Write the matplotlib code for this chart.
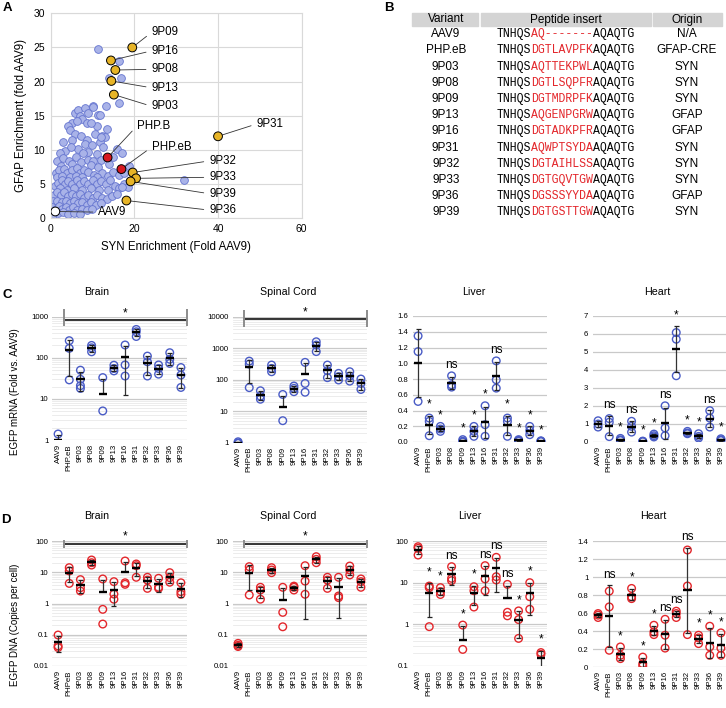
import numpy as np
import matplotlib
matplotlib.use('Agg')
import matplotlib.pyplot as plt
from matplotlib.ticker import LogLocator, NullFormatter

plt.rcParams['font.family'] = ['Liberation Sans', 'DejaVu Sans']

W, H = 726, 708

# ---------------- data: panel A ----------------
syn_bg = [5.8, 6.6, 8.2, 10.2, 9.0, 11.4, 13.2, 7.0,
          7.4, 5.0, 8.6, 6.2, 11.0, 13.4, 4.2, 9.6,
          4.6, 5.8, 10.6, 12.2, 3.0, 5.0, 7.2, 8.6, 13.0, 11.8,
          8.2, 9.8, 6.6, 3.4, 2.2, 9.0, 12.5, 15.8, 17.1, 4.8, 11.0, 7.8,
          1.6, 3.0, 4.4, 6.0, 7.2, 8.8, 10.2, 12.0, 14.0, 2.4, 5.2, 9.6, 11.4,
          1.2, 2.0, 3.2, 4.0, 5.0, 6.2, 7.0, 8.0, 9.0, 10.4, 12.2, 13.6, 15.0, 16.4, 17.5,
          1.6, 2.8, 4.6, 6.0, 7.6, 11.0, 18.6,
          1.0, 1.8, 2.6, 3.4, 4.2, 5.2, 6.2, 7.0, 8.0, 9.0, 10.0, 11.0, 12.0, 13.2, 14.2,
          15.4, 16.4, 17.6, 2.2, 3.8, 5.6, 7.6, 9.6, 11.6, 13.6, 18.5,
          0.8, 1.4, 2.4, 3.2, 4.2, 5.0, 6.0, 7.0, 8.0, 9.0, 10.0, 11.0, 12.2, 13.4, 14.6, 15.8,
          0.6, 1.6, 2.6, 3.6, 4.6, 5.6, 6.6, 7.6, 8.6, 9.6, 10.8, 12.0,
          0.4, 1.2, 2.0, 2.8, 3.6, 4.4, 5.4, 6.4, 7.4, 8.6, 9.8, 0.6, 1.8, 3.0, 4.2, 0.3, 5.6, 7.0,
          11.4, 16.4, 13.9, 16.8, 16.3, 31.9, 10.2, 11.8, 12.0, 17.0, 15.0]
gfap_bg = [15.4, 15.8, 16.1, 16.4, 15.4, 15.1, 16.4, 15.0,
           14.6, 13.9, 13.9, 14.3, 13.5, 13.1, 13.5, 14.0,
           12.9, 12.4, 12.4, 12.0, 11.2, 11.5, 12.0, 11.5, 11.9, 11.2,
           10.9, 10.7, 10.2, 9.9, 9.5, 9.7, 10.5, 10.2, 9.6, 10.5, 9.4, 9.6,
           8.4, 8.8, 8.4, 9.0, 8.2, 8.6, 8.4, 8.6, 8.0, 7.6, 7.9, 7.8, 7.5,
           6.6, 7.0, 7.2, 6.6, 7.0, 7.4, 6.6, 7.0, 6.8, 6.4, 6.6, 6.2, 6.8, 6.3, 6.6,
           6.0, 6.2, 6.0, 6.2, 6.0, 6.0, 7.6,
           4.8, 5.2, 5.6, 5.0, 5.4, 5.0, 5.6, 5.0, 5.4, 5.0, 5.6, 5.0, 5.4, 5.0, 5.6,
           4.8, 4.4, 5.0, 4.4, 4.2, 4.4, 4.2, 4.4, 4.2, 4.2, 4.6,
           3.4, 3.8, 3.4, 3.8, 3.2, 3.6, 3.2, 3.6, 3.0, 3.4, 3.0, 3.4, 3.0, 2.8, 3.2, 3.6,
           2.6, 2.6, 2.4, 2.6, 2.2, 2.6, 2.2, 2.4, 2.0, 2.4, 2.0, 2.2,
           1.6, 1.4, 1.8, 1.4, 1.6, 1.2, 1.6, 1.2, 1.4, 1.2, 1.4, 0.6, 0.8, 0.9, 0.6, 0.2, 0.8, 0.6,
           24.8, 23.0, 20.6, 20.6, 16.9, 5.56, 16.3, 15.1, 11.9, 4.6, 9.0]

hl_names = ['9P09', '9P16', '9P08', '9P13', '9P03', '9P31', 'PHP.B', 'PHP.eB',
            '9P32', '9P33', '9P39', '9P36', 'AAV9']
hl_syn = [19.5, 14.4, 15.45, 14.5, 15.1, 40.0, 13.6, 16.9, 19.6, 20.4, 19.1, 18.1, 1.1]
hl_gfap = [25.0, 23.1, 21.7, 20.1, 18.1, 12.0, 8.9, 7.2, 6.7, 5.85, 5.4, 2.6, 1.0]
hl_kind = ['new'] * 6 + ['ref', 'ref'] + ['new'] * 4 + ['aav9']

# ---------------- data: panel B ----------------
variants = ['AAV9', 'PHP.eB', '9P03', '9P08', '9P09', '9P13', '9P16', '9P31',
            '9P32', '9P33', '9P36', '9P39']
inserts = ['AQ-------', 'DGTLAVPFK', 'AQTTEKPWL', 'DGTLSQPFR', 'DGTMDRPFK', 'AQGENPGRW',
           'DGTADKPFR', 'AQWPTSYDA', 'DGTAIHLSS', 'DGTGQVTGW', 'DGSSSYYDA', 'DGTGSTTGW']
origins = ['N/A', 'GFAP-CRE', 'SYN', 'SYN', 'SYN', 'GFAP', 'GFAP', 'SYN', 'SYN', 'SYN',
           'GFAP', 'SYN']

# ---------------- data: panels C, D ----------------
groups = ['AAV9', 'PHPeB', '9P03', '9P08', '9P09', '9P13', '9P16', '9P31',
          '9P32', '9P33', '9P36', '9P39']
groups_brain_c = ['AAV9', 'PHP.eB'] + groups[2:]

mrna_brain = [[1.4, 0.8, 0.8], [261, 170, 29], [50, 30, 21, 18], [200, 175, 140],
              [33, 5.1, 0.6], [66, 55, 48], [205, 67, 36], [490, 430, 330],
              [110, 80, 36], [67, 55, 40], [133, 92, 73], [58, 38, 19]]
mrna_spinal = [[1.07, 0.98, 0.95], [389, 312, 56], [44.6, 30, 24], [292, 228, 179],
               [34, 5.0, 0.6], [63, 53, 41.6], [355, 76, 40], [1600, 1260, 780],
               [292, 193, 116], [159, 125, 98], [179, 130, 90], [105, 76, 49]]
mrna_liver = [[1.347, 1.148, 0.515], [0.304, 0.262, 0.08], [0.198, 0.165, 0.135],
              [0.84, 0.726, 0.697], [0.03, 0.01, 0.0], [0.198, 0.135, 0.072],
              [0.46, 0.22, 0.072], [1.03, 0.79, 0.684], [0.304, 0.262, 0.072],
              [0.03, 0.02, 0.01], [0.198, 0.144, 0.093], [0.015, 0.01, 0.005]]
mrna_heart = [[1.18, 1.0, 0.83], [1.3, 1.1, 0.3], [0.2, 0.12, 0.08], [1.15, 0.87, 0.55],
              [0.05, 0.03, 0.02], [0.44, 0.35, 0.28], [2.01, 0.78, 0.35], [6.08, 5.71, 3.68],
              [0.59, 0.5, 0.46], [0.46, 0.31, 0.22], [1.74, 1.33, 0.83], [0.18, 0.12, 0.08]]
dna_brain = [[0.098, 0.044, 0.039], [14, 11, 4.4], [5.8, 3.2, 2.5], [24.7, 20.2, 17.0],
             [6.1, 0.65, 0.22], [5.0, 2.0, 1.37], [22.9, 4.6, 4.1], [18.4, 16.2, 6.9],
             [6.9, 5.6, 3.05], [6.4, 3.3, 3.05], [9.7, 6.7, 4.8], [4.6, 2.4, 1.97]]
dna_spinal = [[0.053, 0.046, 0.042], [15.1, 11.8, 1.87], [3.3, 2.7, 1.37], [14.0, 11.8, 9.7],
              [3.3, 0.52, 0.18], [3.6, 3.3, 2.7], [16.2, 5.2, 1.97], [31.5, 25.9, 20.2],
              [6.9, 5.6, 3.05], [6.9, 1.74, 1.54], [15.8, 11.8, 8.2], [6.1, 5.0, 3.3]]
dna_liver = [[73, 66.7, 46], [8.3, 7.6, 0.88], [7.6, 6.1, 5.2], [24.2, 12.7, 11.2],
             [0.96, 0.25, 0.05], [8.0, 6.4, 2.6], [25.6, 12.3, 6.4], [40.6, 13.9, 11.6],
             [9.1, 1.95, 1.6], [2.1, 1.3, 0.46], [10.0, 4.6, 2.3], [0.21, 0.19, 0.06]]
dna_heart = [[0.594, 0.576, 0.55], [0.843, 0.668, 0.186], [0.223, 0.13, 0.093],
             [0.873, 0.78, 0.76], [0.11, 0.037, 0.011], [0.464, 0.39, 0.36],
             [0.53, 0.353, 0.21], [0.62, 0.594, 0.55], [1.3, 0.9, 0.36],
             [0.353, 0.323, 0.26], [0.453, 0.223, 0.13], [0.379, 0.21, 0.13]]

sig_liver_c = ['', '*', '*', 'ns', '*', '*', '*', 'ns', '*', '*', '*', '*']
sig_heart_c = ['', 'ns', '*', 'ns', '*', '*', 'ns', '*', '*', '*', 'ns', '*']
sig_liver_d = ['', '*', '*', 'ns', '*', '*', 'ns', 'ns', 'ns', '*', '*', '*']
sig_heart_d = ['', 'ns', '*', '*', '*', '*', 'ns', 'ns', 'ns', '*', '*', '*']

BLUE = '#4a5cc6'
RED = '#e3262b'


def px_axes(fig, l, t, r, b):
    return fig.add_axes([l / W, 1 - b / H, (r - l) / W, (b - t) / H])


def ftext(fig, x, y, s, **kw):
    fig.text(x / W, 1 - y / H, s, **kw)


fig = plt.figure(figsize=(W / 100, H / 100), dpi=100)

# ---------------- panel A ----------------
ax = px_axes(fig, 50.7, 13.3, 301.7, 218.3)
ax.scatter(syn_bg, gfap_bg, s=31, facecolor='#a9b3e8', edgecolor='#6474cf', lw=0.6, zorder=2)
hl_colors = {'new': '#e7b427', 'ref': '#d71920', 'aav9': 'white'}
ax.scatter(hl_syn, hl_gfap, s=40, c=[hl_colors[k] for k in hl_kind],
           edgecolor='black', lw=0.7, zorder=4)
label_pos = [(24.1, 27.2), (24.1, 24.5), (24.1, 21.8), (24.1, 19.1), (24.1, 16.4),
             (49.2, 13.8), (20.6, 13.5), (24.1, 10.4), (37.9, 8.4), (37.9, 6.0),
             (37.9, 3.6), (37.9, 1.2), (11.4, 0.9)]
for name, x, y, (tx, ty) in zip(hl_names, hl_syn, hl_gfap, label_pos):
    ax.annotate(name, xy=(x, y), xytext=(tx, ty), fontsize=8.3, ha='left', va='center',
                arrowprops=dict(arrowstyle='-', color='#333333', lw=0.6,
                                relpos=(0, 0.5), shrinkA=2, shrinkB=2), zorder=3)
ax.set_xlim(0, 60)
ax.set_ylim(0, 30)
ax.set_xticks([0, 20, 40, 60])
ax.set_yticks(range(0, 31, 5))
ax.grid(color='#d9d9d9', lw=0.8)
ax.set_axisbelow(True)
for sp in ax.spines.values():
    sp.set_color('#d9d9d9')
ax.tick_params(length=0, labelsize=7.5, pad=4)
ax.set_xlabel('SYN Enrichment (Fold AAV9)', fontsize=8.3, labelpad=5)
ax.set_ylabel('GFAP Enrichment (fold AAV9)', fontsize=8.3, labelpad=5)

# ---------------- panel B ----------------
col_x = [445.7, 565.7, 687]
hdr = [(412, 478.5), (480.5, 651), (653, 722)]
for (l, r), name, cx in zip(hdr, ['Variant', 'Peptide insert', 'Origin'], col_x):
    fig.patches.append(plt.Rectangle((l / W, 1 - 26 / H), (r - l) / W, 13 / H,
                                     transform=fig.transFigure, color='#d4d4d4', zorder=0))
    ftext(fig, cx, 19.5, name, fontsize=8.5, ha='center', va='center')
x0, cw = 496.7, 6.9
for i, (v, ins, o) in enumerate(zip(variants, inserts, origins)):
    y = 34.3 + i * 16.18
    ftext(fig, col_x[0], y, v, fontsize=8.5, ha='center', va='center')
    ftext(fig, col_x[2], y, o, fontsize=8.5, ha='center', va='center')
    for s, off, col in [('TNHQS', 0, 'black'), (ins, 5, '#e3262b'), ('AQAQTG', 14, 'black')]:
        ftext(fig, x0 + off * cw, y, s, fontsize=8.3, ha='left', va='center',
              color=col, family='Liberation Mono')


# ---------------- panels C, D ----------------
def dot_panel(ax, data, labels, color, log, ylim, yticks, yticklabels, sig=None):
    for i, pts in enumerate(data):
        pts = np.array(pts, dtype=float)
        ax.scatter(np.full(len(pts), i), pts, s=30, facecolor='none', edgecolor=color,
                   lw=1.0, zorder=3)
        m = pts.mean()
        s = pts.std(ddof=1)
        lo, hi = m - s, m + s
        if log and lo <= 0:
            ax.vlines(i, m, hi, color='#333333', lw=0.9, zorder=4)
            caps = [hi]
        else:
            ax.vlines(i, lo, hi, color='#333333', lw=0.9, zorder=4)
            caps = [lo, hi]
        ax.hlines(caps, i - 0.22, i + 0.22, color='#222222', lw=0.9, zorder=4)
        ax.hlines(m, i - 0.38, i + 0.38, color='black', lw=1.7, zorder=5)
        if sig and sig[i]:
            top = max(pts.max(), hi)
            ax.annotate(sig[i], xy=(i, top), xytext=(0, 3.5), textcoords='offset points',
                        ha='center', va='bottom', fontsize=8.5, annotation_clip=False)
    ax.set_xlim(-0.5, len(data) - 0.5)
    if log:
        ax.set_yscale('log')
        ax.yaxis.set_minor_locator(LogLocator(base=10, subs=range(2, 10)))
        ax.yaxis.set_minor_formatter(NullFormatter())
        ax.grid(which='minor', axis='y', color='#e9e9e9', lw=0.6)
    ax.set_ylim(*ylim)
    ax.set_yticks(yticks)
    ax.set_yticklabels(yticklabels)
    ax.grid(which='major', axis='y', color='#c9c9c9', lw=0.9)
    ax.set_axisbelow(True)
    ax.set_xticks(range(len(labels)))
    ax.set_xticklabels(labels, rotation=90)
    for sp in ax.spines.values():
        sp.set_visible(False)
    ax.tick_params(which='both', length=0, labelsize=5.6, pad=3)


def bracket(ax, y, lo, hi):
    ax.plot([0.5, 11.5], [y, y], color='black', lw=1.1, clip_on=False, zorder=6)
    ax.vlines([0.5, 11.5], lo, hi, color='#8c8c8c', lw=1.4, clip_on=False, zorder=6)
    ax.annotate('*', xy=(6, y), xytext=(0, 0.5), textcoords='offset points', ha='center',
                va='bottom', fontsize=8.5, annotation_clip=False)


lefts = [52.5, 232.5, 412.5, 592.5]
wid = 134

ax = px_axes(fig, lefts[0], 316.7, lefts[0] + wid, 440)
dot_panel(ax, mrna_brain, groups_brain_c, BLUE, True, (1, 1000), [1, 10, 100, 1000],
          ['1', '10', '100', '1000'])
bracket(ax, 830, 594, 1540)

ax = px_axes(fig, lefts[1], 316.7, lefts[1] + wid, 442.7)
dot_panel(ax, mrna_spinal, groups, BLUE, True, (1, 10000), [1, 10, 100, 1000, 10000],
          ['1', '10', '100', '1000', '10000'])
bracket(ax, 8260, 4600, 16000)

ax = px_axes(fig, lefts[2], 316, lefts[2] + wid, 442)
dot_panel(ax, mrna_liver, groups, BLUE, False, (0, 1.6), np.arange(0, 1.61, 0.2),
          ['%.1f' % v for v in np.arange(0, 1.61, 0.2)], sig_liver_c)

ax = px_axes(fig, lefts[3], 316, lefts[3] + wid, 442)
dot_panel(ax, mrna_heart, groups, BLUE, False, (0, 7), range(8),
          [str(v) for v in range(8)], sig_heart_c)

ax = px_axes(fig, lefts[0], 541, lefts[0] + wid, 666)
dot_panel(ax, dna_brain, groups, RED, True, (0.01, 100), [0.01, 0.1, 1, 10, 100],
          ['0.01', '0.1', '1', '10', '100'])
bracket(ax, 83, 60, 105)

ax = px_axes(fig, lefts[1], 541, lefts[1] + wid, 666)
dot_panel(ax, dna_spinal, groups, RED, True, (0.01, 100), [0.01, 0.1, 1, 10, 100],
          ['0.01', '0.1', '1', '10', '100'])
bracket(ax, 83, 60, 105)

ax = px_axes(fig, lefts[2], 541, lefts[2] + wid, 666)
dot_panel(ax, dna_liver, groups, RED, True, (0.1, 100), [0.1, 1, 10, 100],
          ['0.1', '1', '10', '100'], sig_liver_d)

ax = px_axes(fig, lefts[3], 541, lefts[3] + wid, 667)
dot_panel(ax, dna_heart, groups, RED, False, (0, 1.4), np.arange(0, 1.41, 0.2),
          ['0', '0.2', '0.4', '0.6', '0.8', '1', '1.2', '1.4'], sig_heart_d)

# titles and labels
for x, t in zip([97, 288, 474, 657], ['Brain', 'Spinal Cord', 'Liver', 'Heart']):
    ftext(fig, x, 292, t, fontsize=7.7, ha='center', va='center')
for x, t in zip([97, 288, 470, 653], ['Brain', 'Spinal Cord', 'Liver', 'Heart']):
    ftext(fig, x, 516, t, fontsize=7.7, ha='center', va='center')
ftext(fig, 15, 392, 'EGFP mRNA (Fold vs. AAV9)', fontsize=7, rotation=90, ha='center', va='center')
ftext(fig, 15, 625, 'EGFP DNA (Copies per cell)', fontsize=7, rotation=90, ha='center', va='center')

for x, y, t in [(7, 8, 'A'), (389, 8, 'B'), (7, 295, 'C'), (6, 520, 'D')]:
    ftext(fig, x, y, t, fontsize=9.5, fontweight='bold', ha='center', va='center')

fig.savefig('out.png', dpi=100)
